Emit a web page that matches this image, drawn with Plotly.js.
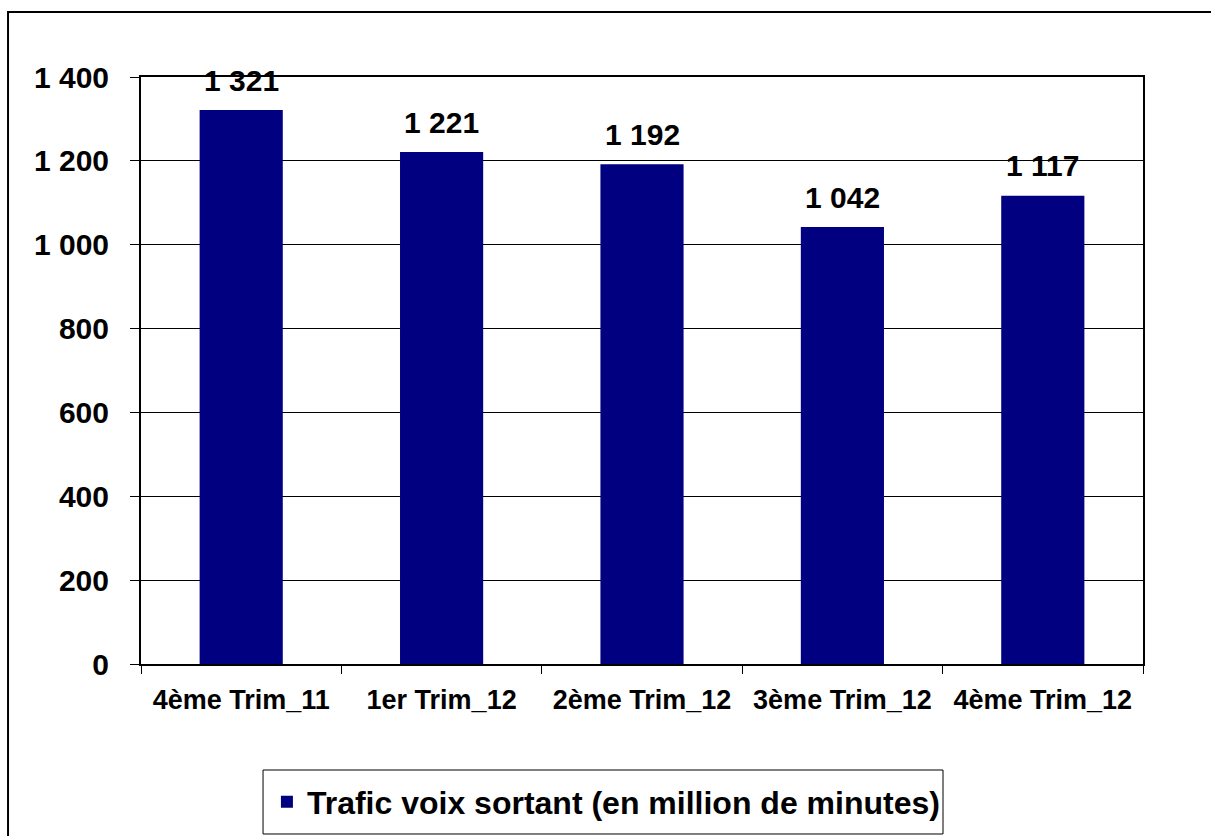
<!DOCTYPE html>
<html>
<head>
<meta charset="utf-8">
<script src="https://cdn.plot.ly/plotly-3.0.1.min.js"></script>
<style>
  html, body { margin: 0; padding: 0; background: #fff; overflow: hidden; }
  #chart { width: 1211px; height: 836px; }
</style>
</head>
<body>
<div id="chart"></div>
<script>
const categories = ["4ème Trim_11", "1er Trim_12", "2ème Trim_12", "3ème Trim_12", "4ème Trim_12"];
const values = [1321, 1221, 1192, 1042, 1117];
const seriesName = "Trafic voix sortant (en million de minutes)";
const yTicks = [0, 200, 400, 600, 800, 1000, 1200, 1400];

const FONT = '"Liberation Sans", Arial, sans-serif';

function fmt(v) {
  return String(v).replace(/\B(?=(\d{3})+(?!\d))/g, ' ');
}

const trace = {
  type: 'bar',
  x: categories,
  y: values,
  name: seriesName,
  marker: { color: '#000080', line: { width: 0 } },
  hoverinfo: 'x+y'
};

const annotations = categories.map((c, i) => ({
  x: c, y: values[i], xref: 'x', yref: 'y',
  text: fmt(values[i]),
  showarrow: false,
  yanchor: 'middle',
  yshift: 30,
  font: { family: FONT, size: 30, color: '#000', weight: 'bold' }
}));

const layout = {
  width: 1211, height: 836,
  margin: { l: 141, r: 68, t: 77, b: 172, autoexpand: false },
  paper_bgcolor: '#fff', plot_bgcolor: '#fff',
  font: { family: FONT, color: '#000' },
  bargap: 0.585,
  showlegend: true,
  legend: {
    x: 0.464, y: -0.235, xanchor: 'center', yanchor: 'middle',
    orientation: 'h',
    bgcolor: 'rgba(0,0,0,0)', borderwidth: 0,
    font: { family: FONT, size: 32, color: '#000', weight: 'bold' },
    itemwidth: 30
  },
  xaxis: {
    type: 'category',
    showline: true, linecolor: '#000', linewidth: 2, mirror: true,
    ticks: 'outside', tickson: 'boundaries', ticklen: 8, tickcolor: '#000', tickwidth: 1,
    showgrid: false,
    tickfont: { family: FONT, size: 27, color: '#000', weight: 'bold' },
    ticklabelstandoff: 11,
    fixedrange: true
  },
  yaxis: {
    range: [0, 1400],
    tickvals: yTicks,
    ticktext: yTicks.map(fmt),
    showline: true, linecolor: '#000', linewidth: 2, mirror: true,
    ticks: 'outside', ticklen: 9, tickcolor: '#000', tickwidth: 1,
    showgrid: true, gridcolor: '#000', gridwidth: 1,
    zeroline: false,
    tickfont: { family: FONT, size: 30, color: '#000', weight: 'bold' },
    ticklabelstandoff: 15,
    fixedrange: true
  },
  annotations: annotations,
  shapes: [
    { type: 'rect', xref: 'paper', yref: 'paper',
      x0: 0.1218, x1: 0.8004, y0: -0.1806, y1: -0.2896,
      line: { color: '#000', width: 1 }, fillcolor: 'rgba(0,0,0,0)', layer: 'below' },
    { type: 'rect', xref: 'paper', yref: 'paper',
      x0: -0.1327, x1: 1.2, y0: 1.1107, y1: -0.5,
      line: { color: '#000', width: 2 }, fillcolor: 'rgba(0,0,0,0)', layer: 'above' }
  ]
};

Plotly.newPlot('chart', [trace], layout, { displayModeBar: false, staticPlot: true });
</script>
</body>
</html>
